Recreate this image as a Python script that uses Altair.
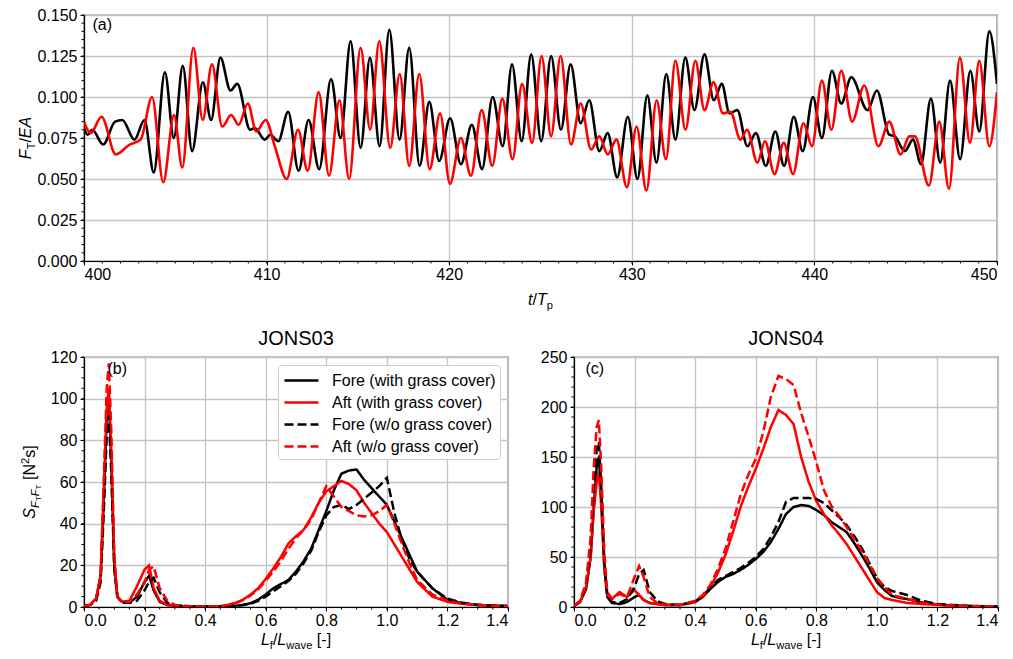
import altair as alt
import pandas as pd

FONT = "Liberation Sans"

# ---------------- panel (a): time series, local extrema (t/Tp, F_T/EA) ----------------
FORE_TS = [(400.00, 0.081), (400.20, 0.077), (400.45, 0.080), (401.05, 0.071), (401.70, 0.085),
           (402.10, 0.086), (402.76, 0.074), (403.31, 0.086), (403.82, 0.054), (404.43, 0.115),
           (404.92, 0.075), (405.41, 0.119), (405.92, 0.067), (406.51, 0.109), (406.96, 0.086),
           (407.47, 0.124), (408.02, 0.104), (408.39, 0.108), (409.10, 0.080), (409.35, 0.081),
           (409.90, 0.074), (410.20, 0.077), (410.64, 0.073), (411.18, 0.091), (411.75, 0.055),
           (412.30, 0.086), (412.88, 0.056), (413.53, 0.111), (414.05, 0.075), (414.60, 0.134),
           (415.15, 0.069), (415.66, 0.124), (416.19, 0.070), (416.72, 0.141), (417.28, 0.074),
           (417.81, 0.130), (418.38, 0.058), (418.91, 0.097), (419.45, 0.061), (420.05, 0.087),
           (420.64, 0.059), (421.24, 0.083), (421.80, 0.056), (422.38, 0.100), (422.93, 0.070),
           (423.44, 0.120), (423.97, 0.073), (424.49, 0.126), (425.04, 0.073), (425.58, 0.125),
           (426.12, 0.080), (426.65, 0.120), (427.20, 0.084), (427.67, 0.098), (428.22, 0.067),
           (428.68, 0.078), (429.20, 0.051), (429.78, 0.088), (430.31, 0.050), (430.85, 0.101),
           (431.35, 0.060), (431.89, 0.114), (432.39, 0.074), (432.93, 0.124), (433.43, 0.092),
           (433.98, 0.126), (434.49, 0.098), (434.93, 0.108), (435.35, 0.090), (435.78, 0.092),
           (436.33, 0.070), (436.80, 0.078), (437.34, 0.058), (437.86, 0.079), (438.34, 0.058),
           (438.87, 0.088), (439.36, 0.067), (439.92, 0.100), (440.41, 0.075), (440.96, 0.116),
           (441.47, 0.096), (442.02, 0.112), (442.91, 0.092), (443.42, 0.104), (444.10, 0.077),
           (444.40, 0.076), (444.95, 0.067), (445.40, 0.074), (445.84, 0.059), (446.38, 0.099),
           (446.89, 0.060), (447.43, 0.110), (447.98, 0.062), (448.54, 0.116), (449.03, 0.079),
           (449.58, 0.140), (450.00, 0.108)]

AFT_TS = [(400.00, 0.085), (400.37, 0.078), (400.96, 0.088), (401.74, 0.065), (402.50, 0.071),
          (403.10, 0.074), (403.73, 0.100), (404.34, 0.048), (404.93, 0.089), (405.38, 0.057),
          (405.99, 0.130), (406.50, 0.086), (407.01, 0.120), (407.57, 0.082), (408.06, 0.089),
          (408.47, 0.083), (408.97, 0.096), (409.44, 0.079), (409.95, 0.086), (410.45, 0.070),
          (411.10, 0.050), (411.72, 0.080), (412.25, 0.055), (412.85, 0.103), (413.42, 0.052),
          (413.99, 0.098), (414.52, 0.050), (415.15, 0.130), (415.67, 0.080), (416.17, 0.134),
          (416.77, 0.069), (417.29, 0.114), (417.81, 0.058), (418.36, 0.114), (418.93, 0.056),
          (419.50, 0.090), (420.04, 0.047), (420.64, 0.075), (421.19, 0.052), (421.78, 0.092),
          (422.36, 0.058), (422.91, 0.099), (423.47, 0.062), (423.99, 0.108), (424.54, 0.072),
          (425.06, 0.125), (425.58, 0.076), (426.10, 0.125), (426.67, 0.071), (427.20, 0.096),
          (427.77, 0.068), (428.22, 0.076), (428.68, 0.065), (429.16, 0.074), (429.73, 0.045),
          (430.26, 0.082), (430.80, 0.043), (431.36, 0.098), (431.87, 0.062), (432.39, 0.122),
          (432.94, 0.080), (433.48, 0.122), (433.98, 0.092), (434.48, 0.109), (434.99, 0.090),
          (435.40, 0.091), (435.95, 0.074), (436.31, 0.080), (436.88, 0.060), (437.29, 0.073),
          (437.82, 0.053), (438.32, 0.072), (438.83, 0.053), (439.40, 0.084), (439.87, 0.070),
          (440.41, 0.110), (440.93, 0.080), (441.47, 0.116), (442.07, 0.085), (442.73, 0.107),
          (443.51, 0.070), (444.10, 0.085), (444.72, 0.065), (445.20, 0.076), (445.50, 0.076),
          (446.27, 0.046), (446.84, 0.085), (447.37, 0.044), (447.97, 0.124), (448.52, 0.072),
          (449.03, 0.122), (449.58, 0.070), (450.00, 0.103)]

T_TICKS = [400, 410, 420, 430, 440, 450]
F_TICKS = [0.000, 0.025, 0.050, 0.075, 0.100, 0.125, 0.150]

# ---------------- panels (b), (c): spectra over L_f/L_wave ----------------
L_GRID = [0.0, 0.02, 0.04, 0.055, 0.065, 0.075, 0.082, 0.09, 0.1, 0.11,
          0.125, 0.15, 0.175, 0.2, 0.215, 0.23, 0.25, 0.275, 0.3, 0.35,
          0.4, 0.425, 0.45, 0.475, 0.5, 0.525, 0.55, 0.575, 0.6, 0.625,
          0.65, 0.675, 0.7, 0.725, 0.75, 0.775, 0.8, 0.825, 0.85, 0.875,
          0.9, 0.925, 0.95, 0.975, 1.0, 1.025, 1.05, 1.075, 1.1, 1.15,
          1.2, 1.25, 1.3, 1.35, 1.4]

SERIES = ["Fore (with grass cover)", "Aft (with grass cover)",
          "Fore (w/o grass cover)", "Aft (w/o grass cover)"]

B_FORE_WITH = [0.5, 1, 4, 15, 50, 90, 100, 70, 20, 5,
               2.5, 2, 5, 12, 15, 8, 2.5, 1, 0.5, 0.3,
               0.3, 0.3, 0.3, 0.4, 0.6, 1, 1.8, 3.5, 6, 9,
               11, 13, 17, 22, 28, 37, 46, 56, 64, 65.5,
               66, 61, 57, 53, 49, 41, 33, 25, 17, 9,
               3.5, 1.8, 1, 0.6, 0.4]
B_AFT_WITH = [0.5, 1, 4, 15, 55, 95, 105, 75, 22, 5,
              2.5, 3, 10, 18, 20, 9, 3, 1, 0.5, 0.3,
              0.3, 0.3, 0.4, 1, 2, 3.5, 6, 9, 13.5, 18.5,
              24, 30.5, 34, 37, 43, 50, 55.5, 58, 60.5, 59,
              56, 50, 45, 40, 36, 30, 24, 18, 12, 5,
              2.5, 1.5, 1, 0.6, 0.4]
B_FORE_WO = [0.5, 1, 3, 12, 45, 82, 92, 65, 18, 5,
             2, 2, 3, 8, 12, 14, 7, 2, 0.8, 0.3,
             0.3, 0.3, 0.3, 0.4, 0.6, 1, 1.5, 3, 5, 7.5,
             10, 12.5, 16, 21, 27, 36, 44, 48, 49, 47,
             49, 52, 55, 58, 62, 45, 32, 23, 17, 9,
             4, 2, 1, 0.7, 0.5]
B_AFT_WO = [0.5, 1, 4, 15, 60, 105, 117, 85, 25, 5,
            2.5, 2.5, 6, 12, 18, 19.5, 9, 3, 1, 0.3,
            0.3, 0.3, 0.4, 0.9, 1.8, 3.3, 5.5, 8.5, 12.5, 17,
            22, 28, 33, 37, 42, 50, 58, 53, 48, 46,
            44, 43.5, 44, 46, 49, 40, 30, 21, 13, 6,
            3, 1.5, 1, 0.6, 0.4]

C_FORE_WITH = [1, 5, 18, 50, 100, 140, 150, 110, 40, 10,
               4, 3, 5, 10, 12, 7, 4, 3, 2, 2,
               5, 10, 18, 25, 30, 33, 37, 42, 48, 55,
               65, 78, 93, 100, 102, 101, 97, 92, 85, 80,
               75, 64, 52, 39, 25, 17, 11, 9, 8, 4.5,
               2.5, 1.5, 1, 0.7, 0.5]
C_AFT_WITH = [1, 5, 20, 50, 95, 125, 135, 100, 40, 12,
              8, 15, 10, 17, 12, 7, 4, 3, 2, 2,
              6, 10, 20, 34, 52, 75, 100, 120, 138, 158,
              180, 197, 192, 183, 150, 125, 106, 93, 82, 73,
              63, 51, 39, 27, 15, 9, 7, 5.5, 4, 3,
              2, 1.2, 0.8, 0.5, 0.4]
C_FORE_WO = [1, 6, 22, 60, 120, 158, 165, 120, 45, 12,
             5, 4, 8, 20, 33, 37, 15, 6, 3, 2,
             5, 11, 19, 27, 31, 35, 39, 44, 50, 58,
             70, 85, 105, 109, 109, 109, 108, 104, 97, 90,
             82, 71, 59, 44, 29, 20, 16, 14, 12, 6,
             3, 2, 1.2, 0.8, 0.5]
C_AFT_WO = [1, 6, 25, 70, 140, 180, 187, 140, 55, 15,
            8, 13, 10, 30, 41, 30, 10, 4, 2.5, 2,
            6, 12, 22, 38, 58, 85, 112, 132, 148, 175,
            210, 231, 228, 222, 194, 170, 145, 117, 101, 91,
            80, 68, 56, 43, 29, 20, 12, 10, 8, 4,
            2.5, 1.5, 1, 0.7, 0.5]

L_TICKS = [0.0, 0.2, 0.4, 0.6, 0.8, 1.0, 1.2, 1.4]
B_TICKS = [0, 20, 40, 60, 80, 100, 120]
C_TICKS = [0, 50, 100, 150, 200, 250]

# ---------------- layout constants ----------------
W_TOP, H_TOP = 913, 246
W_BOT, H_BOT = 424, 250
FS = 16          # main text size
FS_SUB = 11.2    # subscript size
FS_SUB2 = 8      # sub-subscript size
ONE = pd.DataFrame({"k": [0]})

ARIAL = {' ': 278, '(': 333, ')': 333, '-': 333, '/': 278, '[': 278, ']': 278, '2': 556,
         'A': 667, 'E': 667, 'F': 611, 'L': 556, 'N': 722, 'S': 667, 'T': 611,
         'a': 556, 'e': 556, 'f': 278, 'p': 556, 's': 500, 't': 278, 'v': 500, 'w': 722}


def text_w(txt, size):
    return sum(ARIAL.get(c, 556) for c in txt) * size / 1000.0


def piece(txt, x, y, size, italic, angle):
    return alt.Chart(ONE).mark_text(
        text=txt, font=FONT, fontSize=size, fontStyle="italic" if italic else "normal",
        align="left", baseline="alphabetic", angle=angle, color="black"
    ).encode(x=alt.value(x), y=alt.value(y))


def rich(pieces, cx, cy, vertical=False):
    widths = [text_w(p[0], p[2]) for p in pieces]
    total = sum(widths)
    out = []
    pos = cy + total / 2 if vertical else cx - total / 2
    sign = -1 if vertical else 1
    for (txt, it, sz, sh), w in zip(pieces, widths):
        lead = len(txt) - len(txt.lstrip(" "))
        start = pos + sign * text_w(" " * lead, sz)
        body = txt.strip(" ")
        if vertical:
            out.append(piece(body, cx + sh, start, sz, it, 270))
        else:
            out.append(piece(body, start, cy + sh, sz, it, 0))
        pos += sign * w
    return out


def minor_x(values, scale, axis, h):
    return alt.Chart(pd.DataFrame({"m": values})).mark_rule(color="black", strokeWidth=1).encode(
        x=alt.X("m:Q", scale=scale, axis=axis), y=alt.value(h), y2=alt.value(h + 2.5))


def minor_y(values, scale, axis):
    return alt.Chart(pd.DataFrame({"m": values})).mark_rule(color="black", strokeWidth=1).encode(
        y=alt.Y("m:Q", scale=scale, axis=axis), x=alt.value(0), x2=alt.value(-2.5))


# ---------------- panel (a) ----------------
rows = [{"t": t, "v": v, "sensor": "Fore"} for t, v in FORE_TS] + \
       [{"t": t, "v": v, "sensor": "Aft"} for t, v in AFT_TS]
ts_df = pd.DataFrame(rows)
tscale = alt.Scale(domain=[400, 450], nice=False, zero=False)
fscale = alt.Scale(domain=[0, 0.15], nice=False)
taxis = alt.Axis(values=T_TICKS, format="d", title=None, labelPadding=1)
faxis = alt.Axis(values=F_TICKS, format=".3f", title=None)

ts_lines = alt.Chart(ts_df).mark_line(interpolate="monotone", strokeWidth=2.6, clip=True).encode(
    x=alt.X("t:Q", scale=tscale, axis=taxis),
    y=alt.Y("v:Q", scale=fscale, axis=faxis),
    color=alt.Color("sensor:N", scale=alt.Scale(domain=["Fore", "Aft"], range=["#000000", "#ff0000"]),
                    legend=None),
)
top_layers = [ts_lines,
              minor_x([400 + i for i in range(51)], tscale, taxis, H_TOP),
              minor_y([i * 0.005 for i in range(31)], fscale, faxis),
              piece("(a)", 8.5, 15, FS, False, 0)]
top_layers += rich([("t", True, FS, 0), ("/", False, FS, 0), ("T", True, FS, 0), ("p", False, FS_SUB, 3.5)],
                   W_TOP / 2, H_TOP + 44)
top_layers += rich([("F", True, FS, 0), ("T", False, FS_SUB, 3.5), ("/", False, FS, 0), ("EA", True, FS, 0)],
                   -53, H_TOP / 2, vertical=True)
top = alt.layer(*top_layers).properties(width=W_TOP, height=H_TOP)


# ---------------- panels (b), (c) ----------------
def spectrum(values, ymax, yticks, yminor, label, label_x, title, show_legend, ytitle):
    recs = []
    for name, vals in zip(SERIES, values):
        for L, S in zip(L_GRID, vals):
            recs.append({"L": L, "S": S, "series": name})
    df = pd.DataFrame(recs)
    lscale = alt.Scale(domain=[0, 1.4], nice=False)
    sscale = alt.Scale(domain=[0, ymax], nice=False)
    laxis = alt.Axis(values=L_TICKS, format=".1f", title=None, labelPadding=1)
    saxis = alt.Axis(values=yticks, format="d", title=None)
    if show_legend:
        leg = alt.Legend(title=None, orient="top-right", offset=8, symbolType="M-1.7,0H1.7",
                         symbolSize=400, symbolStrokeWidth=2.5, symbolOffset=8,
                         labelFont=FONT, labelFontSize=FS, labelColor="black", labelOffset=19,
                         labelLimit=300, fillColor="white", strokeColor="#cccccc",
                         padding=4, cornerRadius=3, rowPadding=2)
    else:
        leg = None
    lines = alt.Chart(df).mark_line(strokeWidth=2.5, clip=True).encode(
        x=alt.X("L:Q", scale=lscale, axis=laxis),
        y=alt.Y("S:Q", scale=sscale, axis=saxis),
        color=alt.Color("series:N", scale=alt.Scale(domain=SERIES,
                                                     range=["#000000", "#ff0000", "#000000", "#ff0000"]),
                        legend=leg),
        strokeDash=alt.StrokeDash("series:N", scale=alt.Scale(domain=SERIES,
                                                               range=[[1, 0], [1, 0], [9, 4], [9, 4]]),
                                  legend=leg),
    )
    layers = [lines,
              minor_x([i * 0.05 for i in range(29)], lscale, laxis, H_BOT),
              minor_y(yminor, sscale, saxis),
              piece(label, label_x, 17.3, FS, False, 0)]
    layers += rich([("L", True, FS, 0), ("f", False, FS_SUB, 3.5), ("/", False, FS, 0), ("L", True, FS, 0),
                    ("wave", False, FS_SUB, 3.5), (" [-]", False, FS, 0)], W_BOT / 2, 288)
    if ytitle:
        layers += rich([("S", True, FS, 0), ("F", True, FS_SUB, 3.5), ("T", False, FS_SUB2, 5.5),
                        ("F", True, FS_SUB, 3.5), ("T", False, FS_SUB2, 5.5), (" [N", False, FS, 0),
                        ("2", False, FS_SUB, -6), ("s]", False, FS, 0)],
                       -49, H_BOT / 2, vertical=True)
    return alt.layer(*layers).properties(width=W_BOT, height=H_BOT,
                                         title=alt.TitleParams(title, fontSize=20, font=FONT,
                                                               fontWeight="normal", color="black",
                                                               offset=0))


panel_b = spectrum([B_FORE_WITH, B_AFT_WITH, B_FORE_WO, B_AFT_WO], 120, B_TICKS,
                   [i * 5 for i in range(25)], "(b)", 23.5, "JONS03", True, True)
panel_c = spectrum([C_FORE_WITH, C_AFT_WITH, C_FORE_WO, C_AFT_WO], 250, C_TICKS,
                   [i * 10 for i in range(26)], "(c)", 11.5, "JONS04", False, False)

bottom = alt.hconcat(panel_b, panel_c, spacing=66, bounds="flush").resolve_scale(
    color="independent", strokeDash="independent").resolve_legend(
    color="independent", strokeDash="independent")

chart = alt.vconcat(top, bottom, spacing=96, bounds="flush").resolve_scale(
    color="independent", strokeDash="independent").properties(
    padding={"left": 9, "top": -2, "right": 5, "bottom": 2}, background="white"
).configure_view(stroke="black", strokeWidth=1.2).configure_axis(
    labelFont=FONT, labelFontSize=FS, labelColor="black", tickColor="black", domainColor="black",
    tickSize=4, tickWidth=1, domainWidth=1.2, gridColor="#c4c4c4", gridWidth=1.3, labelPadding=3,
    grid=True
)

chart.save("out.html", embed_options={"renderer": "svg", "actions": False})
